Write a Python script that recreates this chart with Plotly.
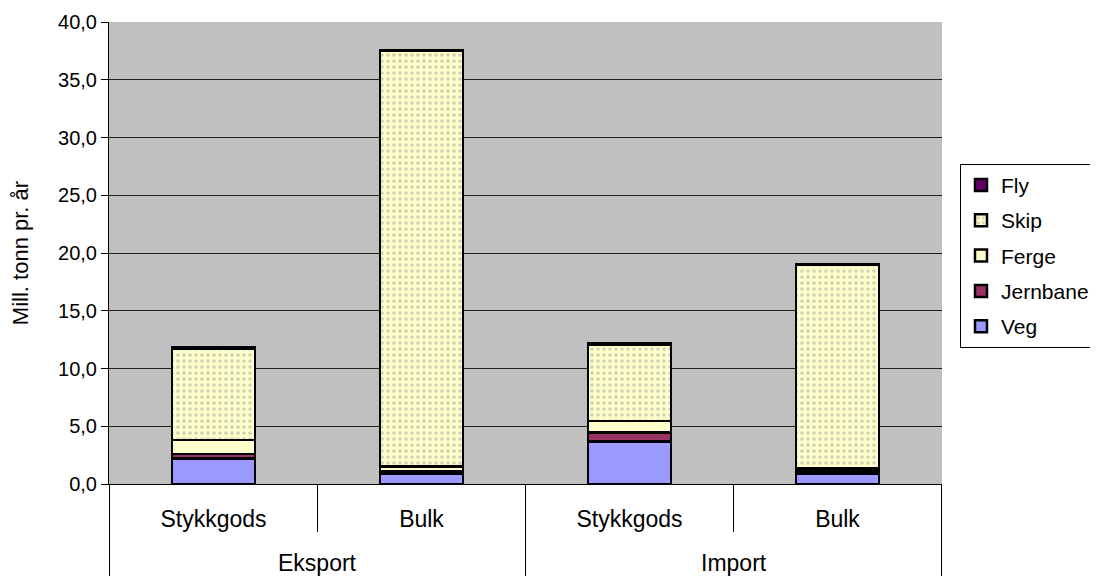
import plotly.graph_objects as go

groups = ["Eksport", "Eksport", "Import", "Import"]
types = ["Stykkgods", "Bulk", "Stykkgods", "Bulk"]

veg = [2.2, 0.9, 3.7, 0.9]
jernbane = [0.4, 0.2, 0.75, 0.2]
ferge = [1.2, 0.4, 1.0, 0.25]
skip = [7.95, 36.0, 6.65, 17.6]
fly = [0.05, 0.05, 0.05, 0.05]

keys = [g + " " + t for g, t in zip(groups, types)]

series = [
    ("Veg", veg, "#9999FF", None),
    ("Jernbane", jernbane, "#993366", None),
    ("Ferge", ferge, "#FFFFCC", None),
    ("Skip", skip, "#FFFFCC", dict(shape=".", fgcolor="#a8a898", size=6, solidity=0.3)),
    ("Fly", fly, "#660066", None),
]

fig = go.Figure()
for k, (name, vals, color, pat) in enumerate(series):
    marker = dict(color=color, line=dict(color="black", width=2.5))
    if pat:
        marker["pattern"] = pat
    fig.add_trace(go.Bar(name=name, x=keys, y=vals, marker=marker, width=0.4,
                         legendgroup=name, legendrank=len(series) - k))

# plot area geometry (figure px)
PLOT_H = 462
BOTTOM = 100

shapes = []
n = len(keys)
for i in range(n + 1):
    xb = i - 0.5
    if i == 0 or i == n or groups[i - 1] != groups[i]:
        depth = BOTTOM
    else:
        depth = 48
    shapes.append(dict(type="line", xref="x", yref="paper", x0=xb, x1=xb,
                       y0=0, y1=-depth / PLOT_H, line=dict(color="black", width=1)))

annotations = []
seen = []
for g in groups:
    if g not in seen:
        seen.append(g)
for g in seen:
    idx = [i for i, gg in enumerate(groups) if gg == g]
    annotations.append(dict(text=g, xref="x", yref="paper", x=sum(idx) / len(idx),
                            y=-79 / PLOT_H, yanchor="middle", xanchor="center",
                            showarrow=False, font=dict(size=23)))

fig.update_layout(
    barmode="stack",
    width=1098, height=576,
    margin=dict(l=101, r=164, t=14, b=BOTTOM, autoexpand=False),
    plot_bgcolor="#C0C0C0",
    paper_bgcolor="white",
    separators=", ",
    font=dict(family="Liberation Sans, Arial, sans-serif", size=20, color="black"),
    legend=dict(
        x=1.0216, y=0.693, xanchor="left", yanchor="top",
        bordercolor="black", borderwidth=1, bgcolor="white",
        font=dict(size=21), traceorder="grouped",
        itemwidth=30, tracegroupgap=5,
    ),
    showlegend=True,
    shapes=shapes,
    annotations=annotations,
)
fig.update_yaxes(
    range=[0, 40], dtick=5, tickformat=".1f",
    showgrid=True, gridcolor="#222222", gridwidth=1,
    showline=True, linecolor="black", linewidth=1,
    ticks="outside", ticklen=7, tickcolor="black",
    title=dict(text="Mill. tonn pr. år", font=dict(size=22), standoff=25),
    zeroline=False, automargin=False,
)
fig.update_xaxes(
    type="category",
    tickvals=keys, ticktext=types,
    showline=True, linecolor="black", linewidth=1,
    ticks="outside", ticklen=14, tickcolor="rgba(0,0,0,0)",
    tickfont=dict(size=23), automargin=False,
)
fig.write_html("out.html")
